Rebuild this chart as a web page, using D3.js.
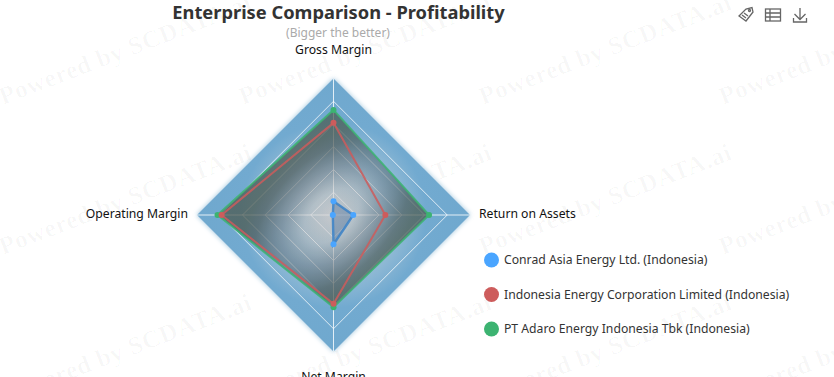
<!DOCTYPE html>
<html><head><meta charset="utf-8">
<script src="https://cdn.jsdelivr.net/npm/d3@7/dist/d3.min.js"></script>
<style>html,body{margin:0;padding:0;background:#fff;overflow:hidden}svg{display:block;font-family:"Noto Sans","Open Sans",sans-serif}</style>
</head><body><svg id="c" width="834" height="377"></svg>
<script>
const categories = ["Gross Margin","Return on Assets","Net Margin","Operating Margin"];
const seriesNames = ["PT Adaro Energy Indonesia Tbk (Indonesia)","Indonesia Energy Corporation Limited (Indonesia)","Conrad Asia Energy Ltd. (Indonesia)"];
const adaro = [77,70,67.5,85];
const iec = [67.5,38,65,82];
const conrad = [10,14.5,21.5,0.5];
const seriesColors = ["#3cb371","#cd5c5c","#4aa5ff"];
const legendOrder = [2,1,0];
const ringLevels = [100,83.33,66.67,50,33.33,16.67];
const title = "Enterprise Comparison - Profitability";
const subtitle = "(Bigger the better)";

const svg = d3.select("#c");
const cx=333.5,cy=215,R=136.5;
const r = d3.scaleLinear().domain([0,100]).range([0,R]);
const angle = d3.scaleLinear().domain([0,categories.length]).range([0,2*Math.PI]);
const radial = d3.lineRadial().angle((d,i)=>angle(i)).radius(d=>r(d)).curve(d3.curveLinearClosed);
const defs = svg.append("defs");

const bg = defs.append("radialGradient").attr("id","bg").attr("gradientUnits","userSpaceOnUse")
  .attr("cx",0).attr("cy",0).attr("r",R);
[[0,"#dce2e6"],[.2,"#c2d3de"],[.45,"#98bdd6"],[.68,"#72aad0"],[1,"#6fa8ce"]].forEach(s=>bg.append("stop").attr("offset",s[0]).attr("stop-color",s[1]));
const shade = defs.append("radialGradient").attr("id","shade").attr("gradientUnits","userSpaceOnUse")
  .attr("cx",0).attr("cy",0).attr("r",100)
  .attr("gradientTransform",`translate(-2,1) rotate(-45) scale(1.1,.68)`);
[[0,"#6a6a6a",.12],[.3,"#5a6a70",.12],[.55,"#50606a",.38],[.85,"#4a5a58",.68],[1,"#4a5a50",.72]].forEach(s=>shade.append("stop").attr("offset",s[0]).attr("stop-color",s[1]).attr("stop-opacity",s[2]));
const blur = defs.append("filter").attr("id","glow").attr("x","-20%").attr("y","-20%").attr("width","140%").attr("height","140%");
blur.append("feGaussianBlur").attr("stdDeviation",2.5);

const wm = svg.append("g");
[105,255,405].forEach(y=>d3.range(0,4).forEach(k=>{
  wm.append("text").attr("transform",`translate(${k*240+3},${y}) rotate(-21)`)
    .attr("font-family","'Liberation Serif',serif").attr("font-weight","bold").attr("font-size",25)
    .attr("letter-spacing",.6).attr("fill","#000").attr("fill-opacity",.032).text("Powered by SCDATA.ai");
}));

const plot = svg.append("g").attr("transform",`translate(${cx},${cy})`);
const outer = radial(categories.map(()=>100));
plot.append("path").attr("d",outer).attr("fill","#6fa8ce").attr("opacity",.7).attr("filter","url(#glow)");
plot.append("path").attr("d",outer).attr("fill","url(#bg)");

ringLevels.forEach((v,i)=>plot.append("path").attr("d",radial(categories.map(()=>v))).attr("fill","none").attr("stroke","#fff").attr("stroke-opacity",i==0?0:.75).attr("stroke-width",1));
categories.forEach((c,i)=>{
  const a=angle(i);
  plot.append("line").attr("x2",r(100)*Math.sin(a)).attr("y2",-r(100)*Math.cos(a)).attr("stroke","#fff").attr("stroke-opacity",.8);
});
plot.append("path").attr("d",radial(adaro)).attr("fill","url(#shade)");

const data=[adaro,iec,conrad];
const marks = svg.append("g").attr("transform",`translate(${cx},${cy})`);
data.forEach((vals,i)=>{
  marks.append("path").attr("d",radial(vals)).attr("fill",i==0?"none":(i==1?"#5a4a4a":"#2a5a8f")).attr("fill-opacity",i==1?.08:.32)
    .attr("stroke",i==2?d3.color(seriesColors[i]).darker(.7):seriesColors[i]).attr("stroke-width",i==2?2.4:2).attr("stroke-opacity",.85);
});
data.forEach((vals,i)=>{
  vals.forEach((v,k)=>{
    const a=angle(k);
    marks.append("circle").attr("cx",r(v)*Math.sin(a)).attr("cy",-r(v)*Math.cos(a)).attr("r",3).attr("fill",seriesColors[i]);
  });
});

const labelPos=[[cx,54,"middle"],[479,218,"start"],[cx,381,"middle"],[188,218,"end"]];
categories.forEach((c,i)=>svg.append("text").attr("x",labelPos[i][0]).attr("y",labelPos[i][1]).attr("text-anchor",labelPos[i][2])
  .attr("font-size",12.2).attr("fill","#111").text(c));

svg.append("text").attr("x",338.5).attr("y",19).attr("text-anchor","middle").attr("font-size",18.3).attr("font-weight","bold").attr("fill","#333").text(title);
svg.append("text").attr("x",338).attr("y",37).attr("text-anchor","middle").attr("font-size",12).attr("fill","#aaa").text(subtitle);

legendOrder.forEach((si,i)=>{
  const y=260+i*34.5;
  svg.append("circle").attr("cx",491.5).attr("cy",y).attr("r",7.5).attr("fill",seriesColors[si]);
  svg.append("text").attr("x",504).attr("y",y+4).attr("font-size",12.2).attr("fill","#333").text(seriesNames[si]);
});

const tb=svg.append("g").attr("fill","none").attr("stroke","#666").attr("stroke-width",1.3);
tb.append("path").attr("d","M739 16 L746 9 L752 7.5 L753 12 L746 21 Z");
tb.append("circle").attr("cx",749.5).attr("cy",10.5).attr("r",1);
tb.append("path").attr("d","M742 15 L746 18 M744 13 L748 16");
tb.append("rect").attr("x",765.5).attr("y",9).attr("width",15).attr("height",12);
tb.append("path").attr("d","M765.5 13 H780.5 M765.5 17 H780.5 M770 9 V21");
tb.append("path").attr("d","M800 8 V19 M794.5 14 L800 19.5 L805.5 14 M793.5 18 V22 H806.5 V18");
</script></body></html>
